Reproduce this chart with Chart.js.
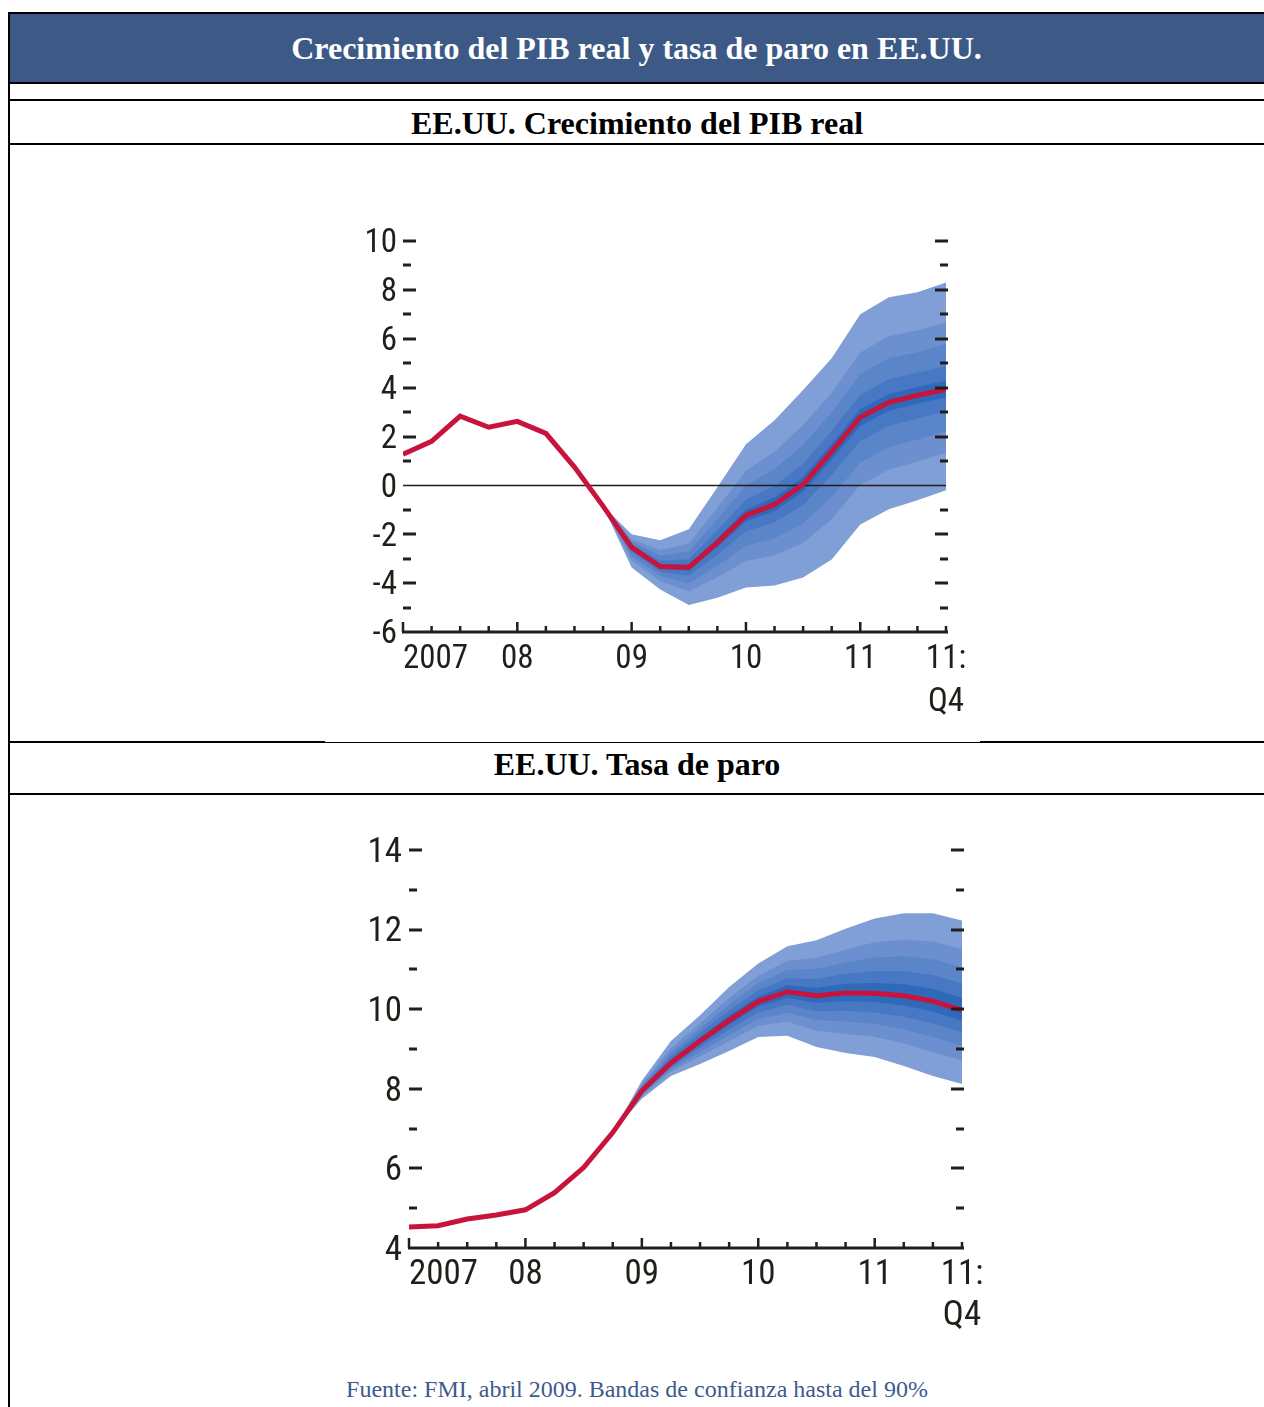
<!DOCTYPE html>
<html lang="es">
<head>
<meta charset="utf-8">
<title>Crecimiento del PIB real y tasa de paro en EE.UU.</title>
<script src="https://cdn.jsdelivr.net/npm/chart.js@4.4.1/dist/chart.umd.min.js"></script>
<style>
  html, body { margin: 0; padding: 0; background: #fff; }
  body { position: relative; width: 1264px; height: 1407px; overflow: hidden; }
  .rule { position: absolute; left: 8px; right: 0; height: 2px; background: #000; }
  .vrule { position: absolute; left: 8px; top: 12px; bottom: 0; width: 2px; background: #000; }
  .banner {
    position: absolute; left: 9px; right: 0; top: 14px; height: 68px;
    background: #3d5a87; color: #fff;
    font: bold 32px "Liberation Serif", "Times New Roman", serif;
    text-align: center; line-height: 68px;
  }
  .subtitle {
    position: absolute; left: 10px; right: 0; text-align: center;
    font: bold 32px "Liberation Serif", "Times New Roman", serif; color: #000;
  }
  .source {
    position: absolute; left: 10px; right: 0; top: 1376px; text-align: center;
    font: 24px "Liberation Serif", "Times New Roman", serif; color: #3e5a8d;
  }
  canvas { position: absolute; }
</style>
</head>
<body>
<div class="rule" style="top:12px"></div>
<div class="banner">Crecimiento del PIB real y tasa de paro en EE.UU.</div>
<div class="rule" style="top:82px"></div>
<div class="rule" style="top:99px"></div>
<div class="subtitle" style="top:101px; line-height:44px;">EE.UU. Crecimiento del PIB real</div>
<div class="rule" style="top:143px"></div>
<div class="rule" style="top:741px; right:auto; width:317px"></div>
<div class="rule" style="top:742px; left:325px; right:auto; width:655px; height:1px"></div>
<div class="rule" style="top:741px; left:980px"></div>
<div class="subtitle" style="top:743px; line-height:42px;">EE.UU. Tasa de paro</div>
<div class="rule" style="top:793px"></div>
<div class="vrule"></div>

<canvas id="gdpChart" width="700" height="570" style="left:320px; top:160px"></canvas>
<canvas id="paroChart" width="700" height="560" style="left:320px; top:800px"></canvas>

<div class="source">Fuente: FMI, abril 2009. Bandas de confianza hasta del 90%</div>

<script>
// Trimestres 2007:T1 - 2011:T4
const quarters = [
  "2007Q1", "2007Q2", "2007Q3", "2007Q4",
  "2008Q1", "2008Q2", "2008Q3", "2008Q4",
  "2009Q1", "2009Q2", "2009Q3", "2009Q4",
  "2010Q1", "2010Q2", "2010Q3", "2010Q4",
  "2011Q1", "2011Q2", "2011Q3", "2011Q4",
];
const xTickIndex = [0, 4, 8, 12, 16, 19];
const xTickLabels = [["2007"], ["08"], ["09"], ["10"], ["11"], ["11:", "Q4"]];

// Primer trimestre con bandas de confianza (2008Q4)
const bandStart = 7;

// PIB real, % anual
const gdpTicks = [10, 8, 6, 4, 2, 0, -2, -4, -6];
const gdpMedian = [1.27, 1.8, 2.83, 2.38, 2.62, 2.13, 0.75, -0.85, -2.54, -3.32,
  -3.36, -2.34, -1.23, -0.78, 0.04, 1.39, 2.79, 3.4, 3.69, 3.93];
const gdpHi90 = [-0.85, -2.0, -2.25, -1.8, -0.08, 1.68, 2.66, 3.9, 5.2, 7.0, 7.7, 7.9, 8.3];
const gdpLo90 = [-0.85, -3.36, -4.26, -4.9, -4.6, -4.18, -4.1, -3.77, -3.03, -1.6, -0.98, -0.61, -0.2];
const gdpHi70 = [-0.85, -2.2, -2.65, -2.38, -0.92, 0.6, 1.39, 2.47, 3.79, 5.44, 6.11, 6.34, 6.68];
const gdpLo70 = [-0.85, -3.06, -3.91, -4.33, -3.76, -3.09, -2.87, -2.36, -1.39, 0.02, 0.64, 0.98, 1.33];
const gdpHi50 = [-0.85, -2.31, -2.87, -2.7, -1.39, -0.01, 0.66, 1.66, 2.99, 4.55, 5.21, 5.45, 5.77];
const gdpLo50 = [-0.85, -2.88, -3.71, -4.01, -3.29, -2.47, -2.17, -1.56, -0.47, 0.94, 1.56, 1.88, 2.2];
const gdpHi30 = [-0.85, -2.42, -3.08, -3.02, -1.84, -0.59, -0.02, 0.89, 2.23, 3.71, 4.35, 4.61, 4.89];
const gdpLo30 = [-0.85, -2.72, -3.53, -3.7, -2.84, -1.88, -1.51, -0.8, 0.42, 1.82, 2.44, 2.74, 3.02];
const gdpHi10 = [-0.85, -2.5, -3.23, -3.24, -2.16, -1.0, -0.5, 0.35, 1.69, 3.13, 3.74, 4.03, 4.28];
const gdpLo10 = [-0.85, -2.61, -3.4, -3.48, -2.52, -1.47, -1.05, -0.26, 1.04, 2.44, 3.05, 3.35, 3.6];

// Tasa de paro, %
const paroTicks = [14, 12, 10, 8, 6, 4];
const paroMedian = [4.53, 4.56, 4.73, 4.83, 4.96, 5.39, 6.02, 6.9, 7.95, 8.65,
  9.2, 9.72, 10.19, 10.44, 10.34, 10.41, 10.4, 10.34, 10.2, 9.97];
const paroHi90 = [6.9, 8.2, 9.2, 9.85, 10.56, 11.15, 11.58, 11.73, 12.02, 12.28, 12.41, 12.41, 12.23];
const paroLo90 = [6.9, 7.75, 8.32, 8.62, 8.95, 9.3, 9.33, 9.05, 8.9, 8.8, 8.57, 8.32, 8.12];
const paroHi70 = [6.9, 8.12, 9.02, 9.64, 10.29, 10.84, 11.22, 11.29, 11.5, 11.68, 11.75, 11.7, 11.51];
const paroLo70 = [6.9, 7.81, 8.43, 8.81, 9.2, 9.58, 9.69, 9.46, 9.38, 9.31, 9.14, 8.92, 8.71];
const paroHi50 = [6.9, 8.07, 8.91, 9.51, 10.12, 10.65, 10.99, 11.01, 11.18, 11.3, 11.33, 11.26, 11.05];
const paroLo50 = [6.9, 7.85, 8.49, 8.92, 9.35, 9.76, 9.91, 9.72, 9.69, 9.63, 9.49, 9.3, 9.08];
const paroHi30 = [6.9, 8.03, 8.82, 9.4, 9.97, 10.48, 10.78, 10.76, 10.89, 10.96, 10.96, 10.86, 10.65];
const paroLo30 = [6.9, 7.89, 8.55, 9.03, 9.49, 9.92, 10.11, 9.95, 9.96, 9.92, 9.81, 9.64, 9.42];
const paroHi10 = [6.9, 7.99, 8.73, 9.29, 9.84, 10.32, 10.6, 10.53, 10.64, 10.66, 10.63, 10.51, 10.29];
const paroLo10 = [6.9, 7.92, 8.6, 9.12, 9.61, 10.07, 10.28, 10.16, 10.2, 10.18, 10.09, 9.94, 9.71];

// Colores: del centro (más oscuro) hacia fuera
const bandColors = ["#2f69b9", "#4878c3", "#5a85c9", "#6c90cf", "#809fd6"];
const lineColor = "#c8143c";
const INK = "#221e19";
const narrowFamily = '"Liberation Sans Narrow", "Arial Narrow", "Roboto Condensed", sans-serif';

function linePoints(values) {
  return values.map((v, i) => ({ x: i, y: v }));
}

function bandPoints(values) {
  return values.map((v, k) => ({ x: bandStart + k, y: v }));
}

/**
 * Ejes al estilo del FMI: guiones a ambos lados, eje inferior con marcas trimestrales
 */
const fanAxes = {
  id: "fanAxes",
  afterDatasetsDraw(chart, args, o) {
    const { ctx, chartArea: a } = chart;
    const x = chart.scales.x;
    const y = chart.scales.y;
    ctx.save();
    ctx.fillStyle = INK;

    // guiones del eje vertical
    for (let v = y.min + 1; v <= y.max; v++) {
      if (v === o.skip) continue;
      const py = Math.round(y.getPixelForValue(v));
      const len = o.yLabels.includes(v) ? 13 : 8;
      ctx.fillRect(a.left, py - 1.5, len, 3);
      ctx.fillRect(a.right + 2 - len, py - 1.5, len, 3);
    }

    // eje inferior con marcas por trimestre
    ctx.fillRect(a.left - 1, a.bottom - 1.5, a.right - a.left + 3, 3);
    quarters.forEach((q, i) => {
      const px = x.getPixelForValue(i);
      const h = i % 4 === 0 ? 10 : 6;
      ctx.fillRect(px - 1.25, a.bottom - h, 2.5, h);
    });

    ctx.font = o.fontSize + "px " + narrowFamily;
    ctx.textBaseline = "middle";
    ctx.textAlign = "right";
    o.yLabels.forEach((v) => {
      ctx.fillText(String(v), a.left - o.gap, y.getPixelForValue(v) + 3);
    });

    xTickIndex.forEach((i, k) => {
      ctx.textAlign = k === 0 ? "left" : "center";
      const px = x.getPixelForValue(i);
      xTickLabels[k].forEach((txt, line) => {
        ctx.fillText(txt, px, a.bottom + o.xOffset + line * o.lineGap);
      });
    });
    ctx.restore();
  },
};

function buildFanChart(canvasId, cfg) {
  const canvas = document.getElementById(canvasId);
  if (!canvas) return;

  const datasets = [
    {
      data: linePoints(cfg.median),
      borderColor: lineColor,
      borderWidth: 5,
      pointRadius: 0,
      tension: 0,
      fill: false,
      order: 0,
    },
  ];

  if (cfg.zeroLine) {
    datasets.push({
      data: [{ x: 0, y: 0 }, { x: quarters.length - 1, y: 0 }],
      borderColor: INK,
      borderWidth: 1.5,
      pointRadius: 0,
      fill: false,
      order: 1,
    });
  }

  cfg.bands.forEach((pair, k) => {
    datasets.push({
      data: bandPoints(pair[0]),
      borderWidth: 0,
      pointRadius: 0,
      tension: 0,
      backgroundColor: bandColors[k],
      fill: "+1",
      order: k + 2,
    });
    datasets.push({
      data: bandPoints(pair[1]),
      borderWidth: 0,
      pointRadius: 0,
      tension: 0,
      fill: false,
      order: k + 2,
    });
  });

  new Chart(canvas, {
    type: "line",
    data: { datasets: datasets },
    options: {
      responsive: false,
      animation: false,
      layout: { padding: cfg.padding },
      plugins: {
        legend: { display: false },
        tooltip: { enabled: false },
        fanAxes: {
          yLabels: cfg.yLabels,
          skip: cfg.zeroLine ? 0 : null,
          gap: cfg.gap,
          xOffset: cfg.xOffset,
          lineGap: cfg.lineGap,
          fontSize: cfg.fontSize,
        },
      },
      scales: {
        x: { type: "linear", min: 0, max: quarters.length - 1, display: false },
        y: { min: cfg.yMin, max: cfg.yMax, display: false },
      },
    },
    plugins: [fanAxes],
  });
}

document.addEventListener("DOMContentLoaded", function () {
  buildFanChart("gdpChart", {
    median: gdpMedian,
    bands: [
      [gdpHi10, gdpLo10],
      [gdpHi30, gdpLo30],
      [gdpHi50, gdpLo50],
      [gdpHi70, gdpLo70],
      [gdpHi90, gdpLo90],
    ],
    yMin: -6,
    yMax: 10,
    yLabels: gdpTicks,
    zeroLine: true,
    padding: { left: 83, right: 74, top: 81, bottom: 98 },
    gap: 6,
    xOffset: 28,
    lineGap: 43,
    fontSize: 33,
  });

  buildFanChart("paroChart", {
    median: paroMedian,
    bands: [
      [paroHi10, paroLo10],
      [paroHi30, paroLo30],
      [paroHi50, paroLo50],
      [paroHi70, paroLo70],
      [paroHi90, paroLo90],
    ],
    yMin: 4,
    yMax: 14,
    yLabels: paroTicks,
    zeroLine: false,
    padding: { left: 89, right: 58, top: 50, bottom: 112 },
    gap: 7,
    xOffset: 27,
    lineGap: 41,
    fontSize: 35,
  });
});
</script>
</body>
</html>
